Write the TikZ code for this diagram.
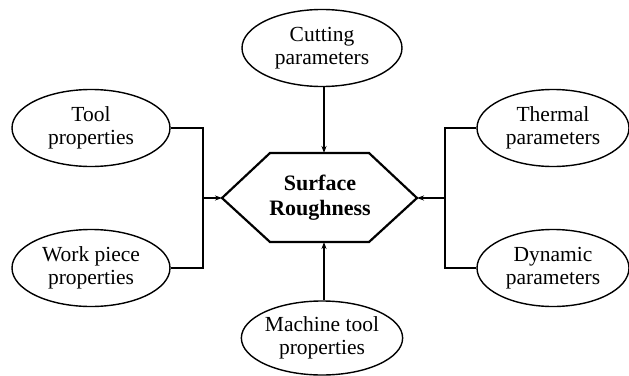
\documentclass[tikz,border=0pt]{standalone}
\usepackage{fontspec}
\setmainfont{Liberation Serif}
\usetikzlibrary{shapes.geometric,arrows.meta}
\begin{document}
\begin{tikzpicture}[x=1pt,y=-1pt,
  oval/.style={ellipse,draw,line width=1.4pt,minimum width=#1,minimum height=77pt,inner sep=0pt,align=center,font=\fontsize{21.5}{23}\selectfont},
  oval/.default=158pt,
  conn/.style={line width=1.4pt},
  arr/.style={conn,-{Stealth[length=7pt,width=5pt]}}]
\useasboundingbox (0,0) rectangle (629,375);
% hexagon
\coordinate (hexL) at (222,198);
\coordinate (hexTL) at (270,153);
\coordinate (hexTR) at (369,153);
\coordinate (hexR) at (417,198);
\coordinate (hexBR) at (369,242);
\coordinate (hexBL) at (270,242);
\coordinate (hexT) at (324,153);
\coordinate (hexB) at (324,242);
\draw[line width=2.2pt,line join=miter] (hexL) -- (hexTL) -- (hexTR) -- (hexR) -- (hexBR) -- (hexBL) -- cycle;
\node[align=center,font=\fontsize{22}{25}\selectfont\bfseries] (sr) at (320,198) {Surface\\Roughness};
% ellipses
\node[oval=160pt] (cut) at (322,48) {Cutting\\parameters};
\node[oval] (tool) at (91,128) {Tool\\properties};
\node[oval] (work) at (91,268) {Work piece\\properties};
\node[oval=152pt] (therm) at (553,128) {Thermal\\parameters};
\node[oval=152pt] (dyn) at (553,268) {Dynamic\\parameters};
\node[oval=160pt,minimum height=74pt] (mach) at (322,338) {Machine tool\\properties};
% connectors
\coordinate (lj) at (203,198);
\coordinate (rj) at (445,198);
\draw[conn] (tool.east) -| (lj);
\draw[conn] (work.east) -| (lj);
\draw[arr] (lj) -- (hexL);
\draw[conn] (therm.west) -| (rj);
\draw[conn] (dyn.west) -| (rj);
\draw[arr] (rj) -- (hexR);
\draw[arr] (cut.south -| hexT) -- (hexT);
\draw[arr] (mach.north -| hexB) -- (hexB);
\end{tikzpicture}
\end{document}
